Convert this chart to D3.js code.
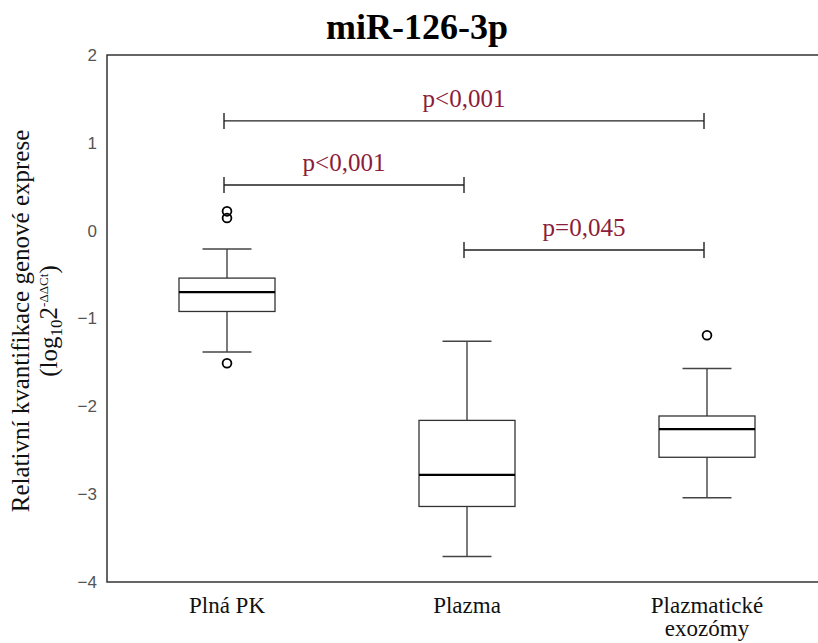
<!DOCTYPE html>
<html>
<head>
<meta charset="utf-8">
<script src="https://cdn.jsdelivr.net/npm/d3@7"></script>
<style>
  html, body { margin: 0; padding: 0; background: #fff; }
  svg { display: block; }
</style>
</head>
<body>
<svg id="chart" width="818" height="643"></svg>
<script>
// Sample groups and their box-plot summaries (log10 2^-ΔΔCt)
const categories = ["Plná PK", "Plazma", "Plazmatické exozómy"];
const whiskerLow  = [-1.38, -3.71, -3.04];
const quartile1   = [-0.92, -3.14, -2.58];
const medians     = [-0.70, -2.78, -2.26];
const quartile3   = [-0.54, -2.16, -2.11];
const whiskerHigh = [-0.21, -1.26, -1.57];
const outliers    = [[0.22, 0.145, -1.51], [], [-1.19]];

// Pairwise comparisons
const compFrom   = [0, 0, 1];
const compTo     = [2, 1, 2];
const compLevel  = [1.25, 0.52, -0.22];
const compLabels = ["p<0,001", "p<0,001", "p=0,045"];

const yTicks = [2, 1, 0, -1, -2, -3, -4];

const svg = d3.select("#chart");
const plotLeft = 107, plotRight = 827, plotTop = 55, plotBottom = 582;
const serif = "'Liberation Serif', 'Times New Roman', serif";

const x = d3.scalePoint().domain(categories).range([plotLeft, plotRight]).padding(0.5);
const y = d3.scaleLinear().domain([-4, 2]).range([plotBottom, plotTop]);
const boxW = x.step() * 0.4;
const capW = boxW * 0.51;

// frame: left, top, bottom
svg.append("path")
  .attr("d", `M${plotRight},${plotTop}H${plotLeft}V${plotBottom}H${plotRight}`)
  .attr("stroke", "#333").attr("stroke-width", 1.5).attr("fill", "none");

// y axis labels (no tick marks)
const yAxis = svg.append("g").attr("transform", `translate(${plotLeft},0)`)
  .call(d3.axisLeft(y).tickValues(yTicks).tickSize(0).tickPadding(10).tickFormat(d3.format("d")));
yAxis.select(".domain").remove();
yAxis.selectAll("text")
  .attr("font-family", "'Liberation Sans', Arial, sans-serif")
  .attr("font-size", 17).attr("fill", "#555");

// boxes
const data = categories.map((c, i) => ({
  c, lo: whiskerLow[i], q1: quartile1[i], med: medians[i], q3: quartile3[i], hi: whiskerHigh[i], out: outliers[i]
}));
const g = svg.append("g").selectAll("g").data(data).join("g")
  .attr("transform", d => `translate(${x(d.c)},0)`);

g.append("line").attr("x1", 0).attr("x2", 0).attr("y1", d => y(d.hi)).attr("y2", d => y(d.q3))
  .attr("stroke", "#333").attr("stroke-width", 1.3);
g.append("line").attr("x1", 0).attr("x2", 0).attr("y1", d => y(d.q1)).attr("y2", d => y(d.lo))
  .attr("stroke", "#333").attr("stroke-width", 1.3);
g.append("line").attr("x1", -capW / 2).attr("x2", capW / 2).attr("y1", d => y(d.hi)).attr("y2", d => y(d.hi))
  .attr("stroke", "#444").attr("stroke-width", 1.5);
g.append("line").attr("x1", -capW / 2).attr("x2", capW / 2).attr("y1", d => y(d.lo)).attr("y2", d => y(d.lo))
  .attr("stroke", "#444").attr("stroke-width", 1.5);
g.append("rect").attr("x", -boxW / 2).attr("width", boxW)
  .attr("y", d => y(d.q3)).attr("height", d => y(d.q1) - y(d.q3))
  .attr("fill", "#fff").attr("stroke", "#333").attr("stroke-width", 1.3);
g.append("line").attr("x1", -boxW / 2).attr("x2", boxW / 2).attr("y1", d => y(d.med)).attr("y2", d => y(d.med))
  .attr("stroke", "#000").attr("stroke-width", 2.2);
g.selectAll("circle").data(d => d.out).join("circle")
  .attr("cx", 0).attr("cy", v => y(v)).attr("r", 4.4)
  .attr("fill", "none").attr("stroke", "#000").attr("stroke-width", 1.8);

// significance brackets
const comps = compLabels.map((t, i) => ({ a: categories[compFrom[i]], b: categories[compTo[i]], lvl: compLevel[i], t }));
const br = svg.append("g").selectAll("g").data(comps).join("g");
br.append("path")
  .attr("d", d => {
    const x1 = x(d.a) - 3, x2 = x(d.b) - 3, yy = y(d.lvl);
    return `M${x1},${yy - 8}V${yy + 8}M${x1},${yy}H${x2}M${x2},${yy - 8}V${yy + 8}`;
  })
  .attr("fill", "none").attr("stroke", "#222").attr("stroke-width", 1.4);
br.append("text")
  .attr("x", d => (x(d.a) + x(d.b)) / 2 - 3)
  .attr("y", d => y(d.lvl) - 14)
  .attr("text-anchor", "middle")
  .attr("font-family", serif)
  .attr("font-size", 25).attr("fill", "#8c1c3a")
  .text(d => d.t);

// category labels
const xl = svg.append("g").selectAll("text").data(categories).join("text")
  .attr("x", d => x(d)).attr("y", 613)
  .attr("text-anchor", "middle").attr("font-family", serif).attr("font-size", 23).attr("fill", "#111");
xl.each(function (d) {
  const words = d === "Plazmatické exozómy" ? ["Plazmatické", "exozómy"] : [d];
  d3.select(this).selectAll("tspan").data(words).join("tspan")
    .attr("x", x(d)).attr("dy", (w, i) => i === 0 ? 0 : 23).text(w => w);
});

// title
svg.append("text").attr("x", 417).attr("y", 39).attr("text-anchor", "middle")
  .attr("font-family", serif).attr("font-weight", "bold").attr("font-size", 36).attr("fill", "#000")
  .text("miR-126-3p");

// y axis title
const yt = svg.append("text").attr("transform", `translate(29,321) rotate(-90)`)
  .attr("text-anchor", "middle").attr("font-family", serif).attr("font-size", 25).attr("fill", "#111");
yt.append("tspan").attr("x", 0).attr("y", 0).text("Relativní kvantifikace genové exprese");
const l2 = yt.append("tspan").attr("x", 0).attr("y", 28);
l2.append("tspan").text("(log");
l2.append("tspan").attr("font-size", 17).attr("dy", 5).text("10");
l2.append("tspan").attr("dy", -5).text("2");
l2.append("tspan").attr("font-size", 13).attr("dy", -9).text("-ΔΔCt");
l2.append("tspan").attr("dy", 9).text(")");
</script>
</body>
</html>
